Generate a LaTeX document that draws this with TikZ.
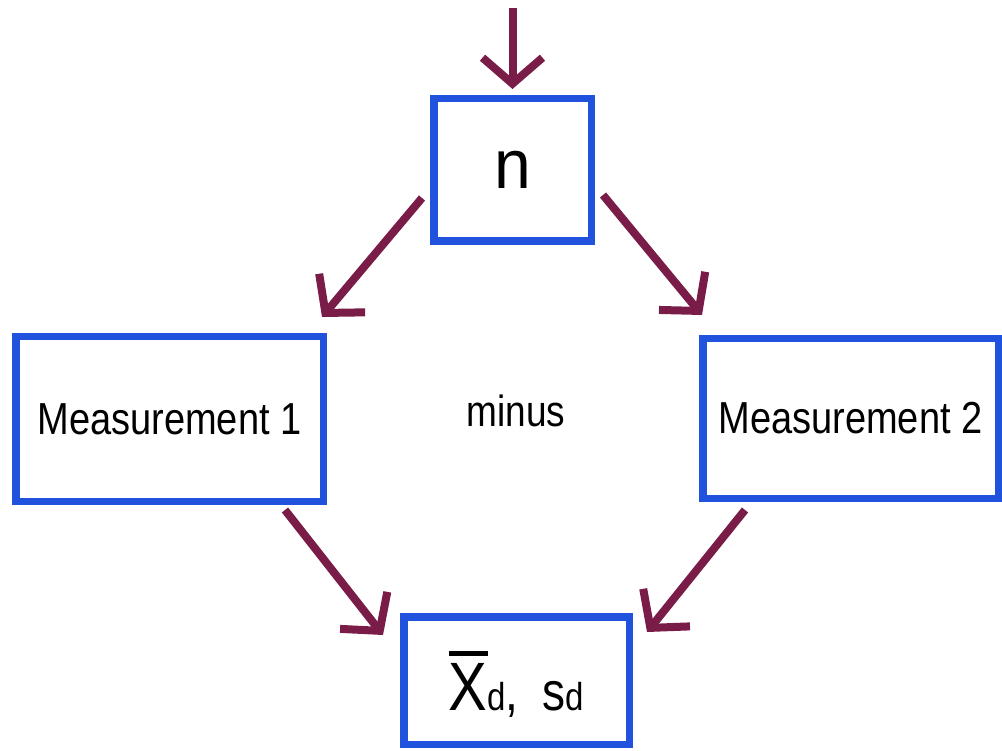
\documentclass[tikz,border=0pt]{standalone}
\usepackage{fontspec}
\setmainfont{Liberation Sans}
\usepackage{graphicx}
\usetikzlibrary{arrows.meta,calc}
\definecolor{boxblue}{RGB}{32,82,222}
\definecolor{arrmaroon}{RGB}{122,28,72}
\newcommand{\stretchtxt}[2][1.18]{\scalebox{1}[#1]{#2}}
\begin{document}
\begin{tikzpicture}[x=1pt,y=-1pt,
  box/.style={draw=boxblue,line width=7.5pt,fill=white,inner sep=0pt,rectangle},
  arr/.style={draw=arrmaroon,line width=8pt,-{Straight Barb[length=26pt,width=60pt]}},
  lbl/.style={inner sep=0pt,text=black}]
\useasboundingbox (0,0) rectangle (1002,751);

\node[box,minimum width=157.5pt,minimum height=142.5pt] (n) at (512.5,170)
  {\stretchtxt[1.05]{\fontsize{66}{68}\selectfont n}};
\node[box,minimum width=307.5pt,minimum height=164.5pt] (m1) at (169.5,419)
  {\stretchtxt{\fontsize{38}{40}\selectfont Measurement 1}};
\node[box,minimum width=295.5pt,minimum height=159.5pt] (m2) at (850.5,418.5)
  {\stretchtxt{\fontsize{38}{40}\selectfont Measurement 2}};
\node[box,minimum width=225.5pt,minimum height=127.5pt,text depth=0pt] (res) at (516.5,680.5)
  {\stretchtxt{{\fontsize{58}{60}\selectfont\vbox{\hrule height 4.3pt\kern 6.5pt\hbox{X}}}{\fontsize{33}{35}\selectfont d}{\fontsize{46}{48}\selectfont,\hspace{24pt}s}{\fontsize{33}{35}\selectfont d}}};
\node[lbl,anchor=base] (minus) at (516,427)
  {\stretchtxt{\fontsize{37}{39}\selectfont minus}};

\coordinate (topstart) at ($(n.north)+(0,-87)$);
\draw[arr] (topstart) -- ($(n.north)+(0,-6)$);
\draw[arr] ($(n.west)+(-8,28)$) -- ($(m1.north east)+(-5,-16)$);
\draw[arr] ($(n.east)+(8,25)$) -- ($(m2.north west)+(3,-20)$);
\draw[arr] ($(m1.south east)+(-42,5)$) -- ($(res.west)+(-17,-45.5)$);
\draw[arr] ($(m2.south west)+(46,8)$) -- ($(res.east)+(14,-48.5)$);
\end{tikzpicture}
\end{document}
